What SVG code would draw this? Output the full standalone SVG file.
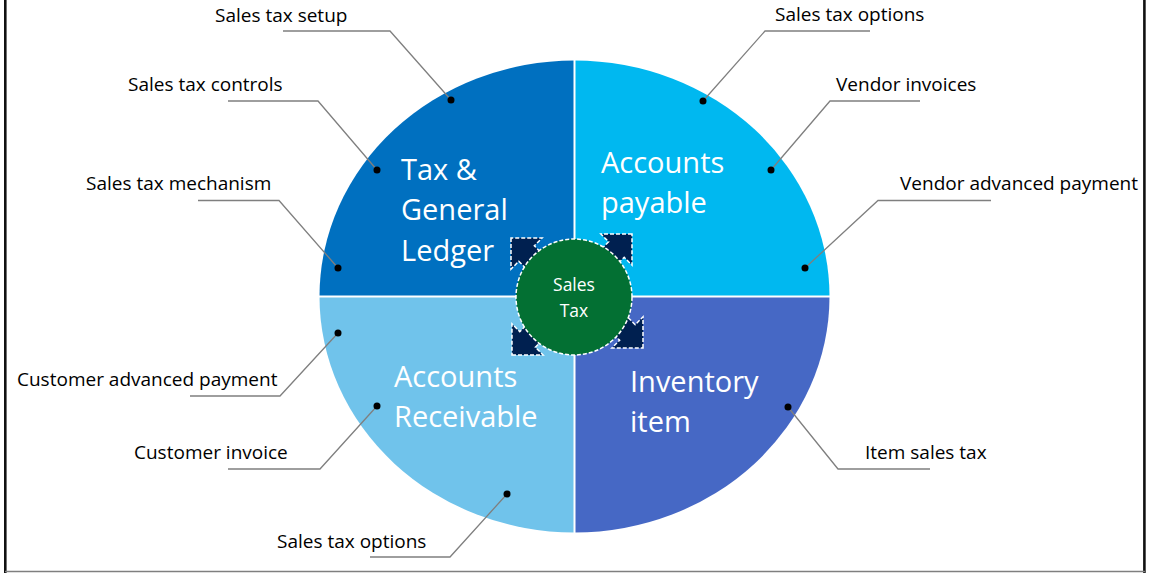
<svg xmlns="http://www.w3.org/2000/svg" width="1149" height="573" viewBox="0 0 1149 573">
<style>
.lbl{font-family:"Open Sans","Liberation Sans",sans-serif;font-size:19px;fill:#000}
.big{font-family:"Open Sans","Liberation Sans",sans-serif;font-size:29px;fill:#fff}
.ctr{font-family:"Open Sans","Liberation Sans",sans-serif;font-size:17.5px;fill:#fff}
.lead{fill:none;stroke:#7f7f7f;stroke-width:1.3}
.dot{fill:#000}
.arr{fill:#002050;stroke:#fff;stroke-width:1.5;stroke-dasharray:4 2}
</style>
<defs>
<path id="arrow" d="M0,0 L-22,-22 L-22,-11 L-48,-11 L-48,11 L-22,11 L-22,22 Z"/>
</defs>
<rect x="0" y="0" width="1149" height="573" fill="#fff"/>
<g id="frame">
<line x1="5.3" y1="0" x2="5.3" y2="573" stroke="#111" stroke-width="2.6"/>
<line x1="1144.4" y1="0" x2="1144.4" y2="573" stroke="#111" stroke-width="2.6"/>
<line x1="5" y1="571.5" x2="1145" y2="571.5" stroke="#7f7f7f" stroke-width="1.6"/>
</g>
<g id="tax-general-ledger">
<path d="M574.5,296.5 L319.5,296.5 A255,236 0 0 1 574.5,60.5 Z" fill="#0070c0"/>
<text class="big" x="401" y="180">Tax &amp;</text>
<text class="big" x="401" y="220">General</text>
<text class="big" x="401" y="261">Ledger</text>
</g>
<g id="accounts-payable">
<path d="M574.5,296.5 L574.5,60.5 A255,236 0 0 1 829.5,296.5 Z" fill="#00b8f0"/>
<text class="big" x="601" y="173">Accounts</text>
<text class="big" x="601" y="213">payable</text>
</g>
<g id="inventory-item">
<path d="M574.5,296.5 L829.5,296.5 A255,236 0 0 1 574.5,532.5 Z" fill="#4668c5"/>
<text class="big" x="630" y="392">Inventory</text>
<text class="big" x="630" y="432">item</text>
</g>
<g id="accounts-receivable">
<path d="M574.5,296.5 L574.5,532.5 A255,236 0 0 1 319.5,296.5 Z" fill="#70c3eb"/>
<text class="big" x="394" y="387">Accounts</text>
<text class="big" x="394" y="427">Receivable</text>
</g>
<g id="dividers">
<line x1="574.5" y1="58" x2="574.5" y2="535" stroke="#fff" stroke-width="2"/>
<line x1="317" y1="296.5" x2="832" y2="296.5" stroke="#fff" stroke-width="2"/>
</g>
<g id="arrows">
<use href="#arrow" class="arr" transform="translate(511,238) rotate(225)"/>
<use href="#arrow" class="arr" transform="translate(632,234) rotate(-45)"/>
<use href="#arrow" class="arr" transform="translate(512,355) rotate(135)"/>
<use href="#arrow" class="arr" transform="translate(643,348) rotate(45)"/>
</g>
<g id="sales-tax">
<circle cx="574" cy="297" r="58" fill="#037033" stroke="#fff" stroke-width="1.5" stroke-dasharray="4 2"/>
<text class="ctr" x="574" y="291" text-anchor="middle">Sales</text>
<text class="ctr" x="574" y="317" text-anchor="middle">Tax</text>
</g>
<g id="connectors">
<polyline class="lead" points="283,31 390,31 451,100"/>
<polyline class="lead" points="228,101 318,101 377,170"/>
<polyline class="lead" points="198,200.5 279,200.5 338,268"/>
<polyline class="lead" points="190,396 280,396 338,333"/>
<polyline class="lead" points="228,469 320,469 377,406"/>
<polyline class="lead" points="370,557 450,557 507,494"/>
<polyline class="lead" points="870,31 765,31 703,101"/>
<polyline class="lead" points="920,101 830,101 771,170"/>
<polyline class="lead" points="991,200.5 878,200.5 805,268"/>
<polyline class="lead" points="930,469 838,469 788,407"/>
<circle class="dot" cx="451" cy="100" r="3.5"/>
<circle class="dot" cx="377" cy="170" r="3.5"/>
<circle class="dot" cx="338" cy="268" r="3.5"/>
<circle class="dot" cx="338" cy="333" r="3.5"/>
<circle class="dot" cx="377" cy="406" r="3.5"/>
<circle class="dot" cx="507" cy="494" r="3.5"/>
<circle class="dot" cx="703" cy="101" r="3.5"/>
<circle class="dot" cx="771" cy="170" r="3.5"/>
<circle class="dot" cx="805" cy="268" r="3.5"/>
<circle class="dot" cx="788" cy="407" r="3.5"/>
</g>
<g id="labels">
<text class="lbl" x="215" y="22">Sales tax setup</text>
<text class="lbl" x="128" y="91">Sales tax controls</text>
<text class="lbl" x="86" y="190">Sales tax mechanism</text>
<text class="lbl" x="17" y="386">Customer advanced payment</text>
<text class="lbl" x="134" y="459">Customer invoice</text>
<text class="lbl" x="277" y="548">Sales tax options</text>
<text class="lbl" x="775" y="21">Sales tax options</text>
<text class="lbl" x="836" y="91">Vendor invoices</text>
<text class="lbl" x="900" y="190">Vendor advanced payment</text>
<text class="lbl" x="865" y="459">Item sales tax</text>
</g>
</svg>
